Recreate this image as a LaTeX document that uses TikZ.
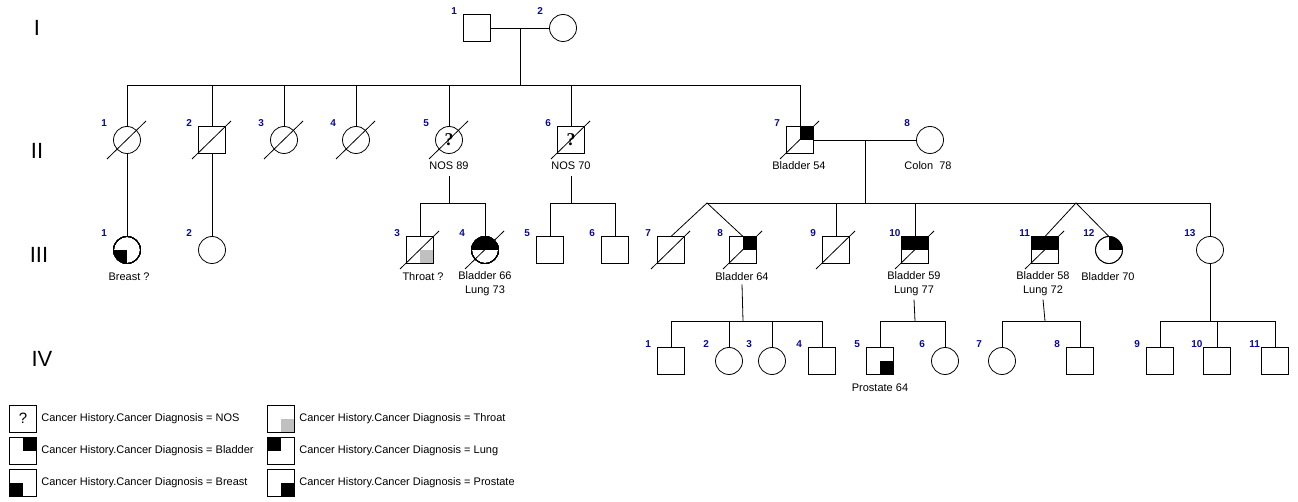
\documentclass[tikz,border=0pt]{standalone}
\usepackage{fontspec}
\setmainfont{Liberation Sans}
\newfontfamily\qserif{Liberation Serif}
\definecolor{numblue}{RGB}{10,10,150}
\definecolor{throatgrey}{RGB}{192,192,192}
\newcommand\pnum[2]{\path (#1.center) ++(-26,-17) node[num] (n-#1) {#2};}
\newcommand\dead[1]{\draw (#1.center) ++(-20,19) -- ++(39,-38);}
\newcommand\sqfill[4]{\fill[#2] (#1.center) rectangle ++(#3,#4);}
\newcommand\sqline[1]{\draw (#1.north west) rectangle (#1.south east);}
\newcommand\cifill[4]{\begin{scope}\clip (#1.center) circle[radius=13.5pt];\fill[#2] (#1.center) rectangle ++(#3,#4);\end{scope}}
\newcommand\ciline[1]{\draw (#1.center) circle[radius=13.5pt];}
\begin{document}
\begin{tikzpicture}[x=1pt,y=-1pt,line width=0.8pt,
  sqr/.style={draw,rectangle,minimum size=27pt,inner sep=0pt,outer sep=0pt,fill=white},
  cir/.style={draw,circle,minimum size=27pt,inner sep=0pt,outer sep=0pt,fill=white},
  num/.style={anchor=west,text=numblue,font=\fontsize{10}{11}\selectfont\bfseries,inner sep=0pt},
  lab/.style={font=\fontsize{11}{14}\selectfont,align=center,inner sep=1pt},
  gen/.style={font=\fontsize{22}{24}\selectfont,inner sep=0pt},
  leg/.style={anchor=west,font=\fontsize{11}{13}\selectfont,inner sep=0pt},
  qm/.style={font=\qserif\bfseries\fontsize{18}{18}\selectfont,inner sep=0pt},
  qmleg/.style={font=\fontsize{15}{15}\selectfont,inner sep=0pt}]
\useasboundingbox[fill=white] (0,0) rectangle (1298,502);

% generation labels
\node[gen] (gI) at (37,28) {I};
\node[gen] (gII) at (37,151) {II};
\node[gen] (gIII) at (39,255) {III};
\node[gen] (gIV) at (42,359) {IV};

% ---------- Generation I ----------
\node[sqr] (I1) at (477,28) {};
\node[cir] (I2) at (563,28) {};
\pnum{I1}{1}\pnum{I2}{2}
\coordinate (mI) at (520,28);
\coordinate (sII) at (520,85);
\draw (I1) -- (I2);
\draw (mI) -- (sII);

% ---------- Generation II ----------
\node[cir] (II1) at (127,140) {};
\node[sqr] (II2) at (212,140) {};
\node[cir] (II3) at (284,140) {};
\node[cir] (II4) at (356,140) {};
\node[cir] (II5) at (449,140) {};
\node[sqr] (II6) at (571,140) {};
\node[sqr] (II7) at (800,140) {};
\node[cir] (II8) at (930,140) {};
\pnum{II1}{1}\pnum{II2}{2}\pnum{II3}{3}\pnum{II4}{4}
\pnum{II5}{5}\pnum{II6}{6}\pnum{II7}{7}\pnum{II8}{8}
\draw (II1.north |- sII) -- (II7.north |- sII);
\foreach \p in {II1,II2,II3,II4,II5,II6,II7} \draw (\p.north |- sII) -- (\p.north);
\node[qm] (q-II5) at (II5.center) {?};
\node[qm] (q-II6) at (II6.center) {?};
\foreach \p in {II1,II2,II3,II4,II5,II6,II7} \dead{\p}
\sqfill{II7}{black}{13.5}{-13.5}\sqline{II7}
\coordinate (mII) at (865,140);
\coordinate (sIIIb) at (865,203);
\draw (II7) -- (II8);
\draw (mII) -- (sIIIb);
\node[lab] (l-II5) at (449,166) {NOS 89};
\node[lab] (l-II6) at (571,166) {NOS 70};
\node[lab] (l-II7) at (799,166) {Bladder 54};
\node[lab] (l-II8) at (928,166) {Colon\ \ 78};

% ---------- Generation III ----------
\node[cir] (III1) at (127,250) {};
\node[cir] (III2) at (212,250) {};
\node[sqr] (III3) at (420,250) {};
\node[cir] (III4) at (485,250) {};
\node[sqr] (III5) at (550,250) {};
\node[sqr] (III6) at (615,250) {};
\node[sqr] (III7) at (671,250) {};
\node[sqr] (III8) at (743,250) {};
\node[sqr] (III9) at (836,250) {};
\node[sqr] (III10) at (915,250) {};
\node[sqr] (III11) at (1045,250) {};
\node[cir] (III12) at (1109,250) {};
\node[cir] (III13) at (1210,250) {};
\pnum{III1}{1}\pnum{III2}{2}\pnum{III3}{3}\pnum{III4}{4}\pnum{III5}{5}
\pnum{III6}{6}\pnum{III7}{7}\pnum{III8}{8}\pnum{III9}{9}\pnum{III10}{10}
\pnum{III11}{11}\pnum{III12}{12}\pnum{III13}{13}

\draw (II1) -- (III1);
\draw (II2) -- (III2);
% II-5 children
\coordinate (s5) at (449,203);
\draw ([yshift=-5pt]l-II5.south) -- (s5);
\draw (III3.north) -- (III3.north |- s5) -- (III4.north |- s5) -- (III4.north);
% II-6 children
\coordinate (s6) at (571,203);
\draw ([yshift=-5pt]l-II6.south) -- (s6);
\draw (III5.north) -- (III5.north |- s6) -- (III6.north |- s6) -- (III6.north);
% II-7 x II-8 children
\coordinate (tw1) at (707,203);
\coordinate (tw2) at (1076,203);
\draw (tw1) -- (III13.north |- sIIIb) -- (III13.north);
\draw (III7.north) -- (tw1) -- (III8.north);
\draw (III11.north) -- (tw2) -- (III12.north);
\draw (III9.north |- sIIIb) -- (III9.north);
\draw (III10.north |- sIIIb) -- (III10.north);

\foreach \p in {III3,III4,III7,III8,III9,III10,III11} \dead{\p}
\cifill{III1}{black}{-14}{14}\ciline{III1}
\sqfill{III3}{throatgrey}{13.5}{13.5}\sqline{III3}
\cifill{III4}{black}{-14}{-14}\cifill{III4}{black}{14}{-14}\ciline{III4}
\sqfill{III8}{black}{13.5}{-13.5}\sqline{III8}
\fill[black] (III10.west) rectangle (III10.north east);\sqline{III10}
\fill[black] (III11.west) rectangle (III11.north east);\sqline{III11}
\cifill{III12}{black}{14}{-14}\ciline{III12}

\node[lab] (l-III1) at (129,277) {Breast ?};
\node[lab] (l-III3) at (423,277) {Throat ?};
\node[lab] (l-III4) at (485,284) {Bladder 66\\Lung 73};
\node[lab] (l-III8) at (742,277) {Bladder 64};
\node[lab] (l-III10) at (914,284) {Bladder 59\\Lung 77};
\node[lab] (l-III11) at (1043,284) {Bladder 58\\Lung 72};
\node[lab] (l-III12) at (1108,277) {Bladder 70};

% ---------- Generation IV ----------
\node[sqr] (IV1) at (671,361) {};
\node[cir] (IV2) at (729,361) {};
\node[cir] (IV3) at (772,361) {};
\node[sqr] (IV4) at (822,361) {};
\node[sqr] (IV5) at (880,361) {};
\node[cir] (IV6) at (945,361) {};
\node[cir] (IV7) at (1002,361) {};
\node[sqr] (IV8) at (1080,361) {};
\node[sqr] (IV9) at (1160,361) {};
\node[sqr] (IV10) at (1217,361) {};
\node[sqr] (IV11) at (1275,361) {};
\pnum{IV1}{1}\pnum{IV2}{2}\pnum{IV3}{3}\pnum{IV4}{4}\pnum{IV5}{5}\pnum{IV6}{6}
\pnum{IV7}{7}\pnum{IV8}{8}\pnum{IV9}{9}\pnum{IV10}{10}\pnum{IV11}{11}
\sqfill{IV5}{black}{13.5}{13.5}\sqline{IV5}
\node[lab] (l-IV5) at (880,388) {Prostate 64};

\coordinate (sIV1) at (743,321);
\draw ([yshift=-2pt]l-III8.south) -- (sIV1);
\draw (IV1.north |- sIV1) -- (IV4.north |- sIV1);
\foreach \p in {IV1,IV2,IV3,IV4} \draw (\p.north |- sIV1) -- (\p.north);

\coordinate (sIV2) at (915,321);
\draw ([yshift=-2pt]l-III10.south) -- (sIV2);
\draw (IV5.north |- sIV2) -- (IV6.north |- sIV2);
\foreach \p in {IV5,IV6} \draw (\p.north |- sIV2) -- (\p.north);

\coordinate (sIV3) at (1045,321);
\draw ([yshift=-2pt]l-III11.south) -- (sIV3);
\draw (IV7.north |- sIV3) -- (IV8.north |- sIV3);
\foreach \p in {IV7,IV8} \draw (\p.north |- sIV3) -- (\p.north);

\coordinate (sIV4) at (1210,321);
\draw (III13.south) -- (sIV4);
\draw (IV9.north |- sIV4) -- (IV11.north |- sIV4);
\foreach \p in {IV9,IV10,IV11} \draw (\p.north |- sIV4) -- (\p.north);

% ---------- Legend ----------
\node[sqr] (L1) at (23,418.5) {};
\node[qmleg] (q-L1) at (L1.center) {?};
\node[sqr] (L2) at (23,451) {};
\sqfill{L2}{black}{13.5}{-13.5}\sqline{L2}
\node[sqr] (L3) at (23,483) {};
\sqfill{L3}{black}{-13.5}{13.5}\sqline{L3}
\node[sqr] (L4) at (281,418.5) {};
\sqfill{L4}{throatgrey}{13.5}{13.5}\sqline{L4}
\node[sqr] (L5) at (281,451) {};
\sqfill{L5}{black}{-13.5}{-13.5}\sqline{L5}
\node[sqr] (L6) at (281,483) {};
\sqfill{L6}{black}{13.5}{13.5}\sqline{L6}
\node[leg] (T1) at (41,418.5) {Cancer History.Cancer Diagnosis = NOS};
\node[leg] (T2) at (41,451) {Cancer History.Cancer Diagnosis = Bladder};
\node[leg] (T3) at (41,483) {Cancer History.Cancer Diagnosis = Breast};
\node[leg] (T4) at (299,418.5) {Cancer History.Cancer Diagnosis = Throat};
\node[leg] (T5) at (299,451) {Cancer History.Cancer Diagnosis = Lung};
\node[leg] (T6) at (299,483) {Cancer History.Cancer Diagnosis = Prostate};
\end{tikzpicture}
\end{document}
